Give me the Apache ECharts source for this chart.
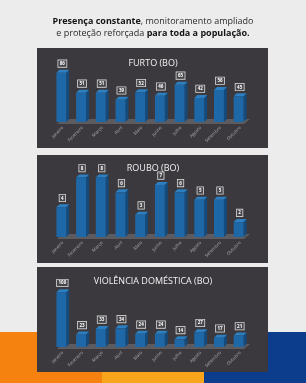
<!DOCTYPE html>
<html>
<head>
<meta charset="utf-8">
<script src="https://cdn.jsdelivr.net/npm/echarts@6/dist/echarts.min.js"></script>
<style>
  html, body { margin: 0; padding: 0; background: #ececec; }
  #chart { width: 306px; height: 383px; }
</style>
</head>
<body>
<div id="chart"></div>
<script>
const months = ['Janeiro', 'Fevereiro', 'Março', 'Abril', 'Maio', 'Junho', 'Julho', 'Agosto', 'Setembro', 'Outubro']
const furto = [86, 51, 51, 39, 52, 46, 65, 42, 56, 45]
const roubo = [4, 8, 8, 6, 3, 7, 6, 5, 5, 2]
const violencia = [100, 23, 33, 34, 24, 24, 14, 27, 17, 21]
const titles = ['FURTO (BO)', 'ROUBO (BO)', 'VIOLÊNCIA DOMÉSTICA (BO)']

const chart = echarts.init(document.getElementById('chart'))

// fake 3d bar: front, right side, top + a floor under the first one
const renderBar3d = (params, api) => {
  const top = api.coord([api.value(0), api.value(1)])
  const base = api.coord([api.value(0), 0])
  const band = api.size([1, 0])[0]
  const w = band * 0.5
  const d = 3
  const x0 = top[0] - w / 2 - 1.5
  const x1 = x0 + w
  const children = []

  if (params.dataIndex === 0) {
    const cs = params.coordSys
    const fl = cs.x + 4
    const fr = cs.x + cs.width - 6
    children.push({
      type: 'polygon',
      shape: { points: [[fl, base[1] + 2], [fr, base[1] + 2], [fr + 6, base[1] - 3], [fl + 6, base[1] - 3]] },
      style: { fill: '#5c5b60' }
    })
  }

  children.push({
    type: 'polygon',
    shape: { points: [[x1, top[1]], [x1 + d, top[1] - d], [x1 + d, base[1] - d], [x1, base[1]]] },
    style: { fill: '#144b7c' }
  })
  children.push({
    type: 'polygon',
    shape: { points: [[x0, top[1]], [x0 + d, top[1] - d], [x1 + d, top[1] - d], [x1, top[1]]] },
    style: { fill: '#2c7fc0' }
  })
  children.push({
    type: 'rect',
    shape: { x: x0, y: top[1], width: w, height: base[1] - top[1] },
    style: { fill: '#1e68a8' }
  })
  children.push({
    type: 'text',
    x: x0 + w / 2 + 1,
    y: top[1] - d - 3,
    style: {
      text: String(api.value(1)),
      fontSize: 4.5,
      fontWeight: 'bold',
      fontFamily: 'Open Sans',
      fill: '#ffffff',
      align: 'center',
      verticalAlign: 'bottom',
      backgroundColor: '#47464b',
      borderColor: '#d8d8d8',
      borderWidth: 0.8,
      padding: [1, 1.5, 0.5, 1.5]
    }
  })
  return { type: 'group', children }
}

const grids = [
  { left: 53, width: 197, top: 70, height: 52 },
  { left: 53, width: 197, top: 170, height: 67 },
  { left: 53, width: 197, top: 290, height: 57 }
]
const maxes = [91, 9, 104]
const seriesData = [furto, roubo, violencia]

const option = {
  backgroundColor: '#ececec',
  animation: false,
  title: titles.map((t, i) => ({
    text: t,
    left: 'center',
    top: [54, 159, 272][i],
    textStyle: { color: '#f2f2f2', fontSize: 9, fontWeight: 'normal', fontFamily: 'Open Sans' }
  })),
  graphic: [
    { type: 'rect', shape: { x: 0, y: 332, width: 102, height: 51 }, style: { fill: '#f5820f' }, z: -10 },
    { type: 'rect', shape: { x: 102, y: 332, width: 102, height: 51 }, style: { fill: '#f8a51c' }, z: -10 },
    { type: 'rect', shape: { x: 204, y: 332, width: 102, height: 51 }, style: { fill: '#0c3c8c' }, z: -10 },
    { type: 'rect', shape: { x: 37, y: 48, width: 231, height: 100 }, style: { fill: '#3b393d' }, z: -5 },
    { type: 'rect', shape: { x: 37, y: 155, width: 231, height: 108 }, style: { fill: '#3b393d' }, z: -5 },
    { type: 'rect', shape: { x: 37, y: 267, width: 231, height: 105 }, style: { fill: '#3b393d' }, z: -5 },
    {
      type: 'text',
      x: 153,
      y: 16,
      style: {
        text: '{b|Presença constante}{n|, monitoramento ampliado}\n{n|e proteção reforçada }{b|para toda a população.}',
        align: 'center',
        verticalAlign: 'top',
        fill: '#1b1b1b',
        rich: {
          b: { fontSize: 9, fontWeight: 'bold', fontFamily: 'Open Sans', fill: '#141414', lineHeight: 11.5, align: 'center' },
          n: { fontSize: 9, fontFamily: 'Open Sans', fill: '#2a2a2a', lineHeight: 11.5, align: 'center' }
        }
      }
    }
  ],
  grid: grids,
  xAxis: grids.map((g, i) => ({
    type: 'category',
    gridIndex: i,
    data: months,
    axisLine: { show: false },
    axisTick: { show: false },
    axisLabel: { rotate: 45, fontSize: 4.5, color: '#a8a8a8', margin: 5, interval: 0, fontFamily: 'Open Sans' }
  })),
  yAxis: grids.map((g, i) => ({
    type: 'value',
    gridIndex: i,
    min: 0,
    max: maxes[i],
    show: false,
    splitLine: { show: false }
  })),
  series: seriesData.map((arr, i) => ({
    type: 'custom',
    xAxisIndex: i,
    yAxisIndex: i,
    renderItem: renderBar3d,
    data: arr.map((v, j) => [j, v])
  }))
}

chart.setOption(option)
</script>
</body>
</html>
